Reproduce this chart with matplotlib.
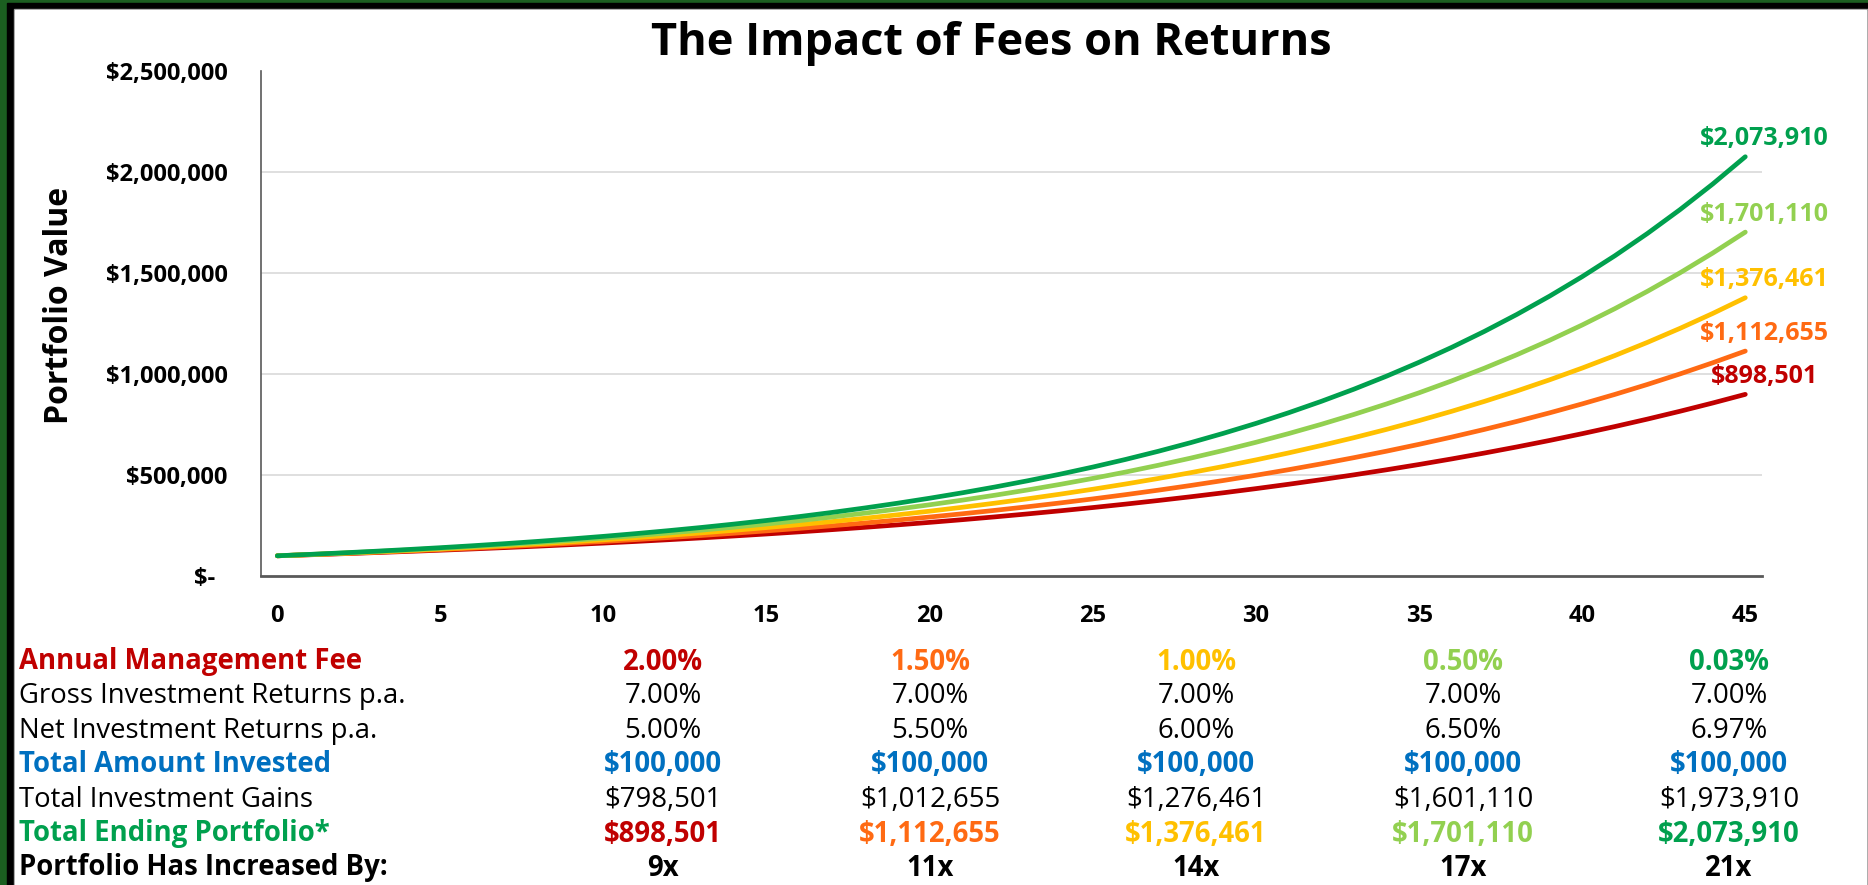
import matplotlib
matplotlib.use("Agg")
import matplotlib.pyplot as plt
from matplotlib.patches import Rectangle
from matplotlib.ticker import FuncFormatter

plt.rcParams["font.family"] = ["Open Sans", "DejaVu Sans"]

# ---- data ----
years = list(range(46))

fee_2_00 = [100000, 105000, 110250, 115763, 121551, 127628, 134010, 140710, 147746, 155133,
            162889, 171034, 179586, 188565, 197993, 207893, 218287, 229202, 240662, 252695,
            265330, 278596, 292526, 307152, 322510, 338635, 355567, 373346, 392013, 411614,
            432194, 453804, 476494, 500319, 525335, 551602, 579182, 608141, 638548, 670475,
            703999, 739199, 776159, 814967, 855715, 898501]
fee_1_50 = [100000, 105500, 111303, 117424, 123882, 130696, 137884, 145468, 153469, 161909,
            170814, 180209, 190121, 200577, 211609, 223248, 235526, 248480, 262147, 276565,
            291776, 307823, 324754, 342615, 361459, 381339, 402313, 424440, 447784, 472412,
            498395, 525807, 554726, 585236, 617424, 651382, 687208, 725004, 764880, 806948,
            851331, 898154, 947553, 999668, 1054650, 1112655]
fee_1_00 = [100000, 106000, 112360, 119102, 126248, 133823, 141852, 150363, 159385, 168948,
            179085, 189830, 201220, 213293, 226090, 239656, 254035, 269277, 285434, 302560,
            320714, 339956, 360354, 381975, 404893, 429187, 454938, 482235, 511169, 541839,
            574349, 608810, 645339, 684059, 725103, 768609, 814725, 863609, 915425, 970351,
            1028572, 1090286, 1155703, 1225045, 1298548, 1376461]
fee_0_50 = [100000, 106500, 113423, 120795, 128647, 137009, 145914, 155399, 165500, 176257,
            187714, 199915, 212910, 226749, 241487, 257184, 273901, 291705, 310665, 330859,
            352365, 375268, 399661, 425639, 453305, 482770, 514150, 547570, 583162, 621067,
            661437, 704430, 750218, 798982, 850916, 906226, 965130, 1027864, 1094675, 1165829,
            1241607, 1322312, 1408262, 1499799, 1597286, 1701110]
fee_0_03 = [100000, 106970, 114426, 122402, 130933, 140059, 149821, 160263, 171434, 183383,
            196164, 209837, 224463, 240108, 256843, 274745, 293895, 314380, 336292, 359731,
            384805, 411626, 440316, 471006, 503835, 538952, 576517, 616700, 659684, 705664,
            754849, 807462, 863743, 923945, 988344, 1057232, 1130921, 1209746, 1294065, 1384262,
            1480745, 1583953, 1694354, 1812451, 1938778, 2073910]

series = [fee_2_00, fee_1_50, fee_1_00, fee_0_50, fee_0_03]
colors = ["#c00000", "#ff6a13", "#ffc000", "#92d050", "#00a04e"]

fee_text = ["2.00%", "1.50%", "1.00%", "0.50%", "0.03%"]
gross_text = ["7.00%", "7.00%", "7.00%", "7.00%", "7.00%"]
net_text = ["5.00%", "5.50%", "6.00%", "6.50%", "6.97%"]
invested_text = ["$100,000", "$100,000", "$100,000", "$100,000", "$100,000"]
gains_text = ["$798,501", "$1,012,655", "$1,276,461", "$1,601,110", "$1,973,910"]
ending_text = ["$898,501", "$1,112,655", "$1,376,461", "$1,701,110", "$2,073,910"]
multiple_text = ["9x", "11x", "14x", "17x", "21x"]

W, H = 1868, 885
fig = plt.figure(figsize=(W / 100, H / 100), dpi=100)
fig.patch.set_facecolor("#1b5e20")


def rect(x0, y0, x1, y1, color):
    # pixel box, y measured from the top
    fig.patches.append(Rectangle((x0 / W, 1 - y1 / H), (x1 - x0) / W, (y1 - y0) / H,
                                 transform=fig.transFigure, color=color, zorder=-10))


rect(7, 3, W, H, "black")
rect(14, 9, W, H, "#9a9a9a")
rect(15, 10, 1866, H, "white")

ax = fig.add_axes([261 / W, 1 - 576 / H, (1761.6 - 261) / W, (576 - 70.6) / H])
ax.set_facecolor("white")

for vals, c in zip(series, colors):
    ax.plot(years, vals, color=c, lw=3.4, solid_capstyle="round")

for vals, c, txt in zip(series, colors, ending_text):
    ax.annotate(txt, (years[-1], vals[-1]), xytext=(19, 18), textcoords="offset pixels",
                ha="center", va="center", color=c, fontsize=18, fontweight="bold")

ax.set_xlim(-0.5, 45.5)
ax.set_ylim(0, 2500000)
ax.set_xticks(range(0, 46, 5))
ax.set_yticks(range(0, 2500001, 500000))
for y in ax.get_yticks()[1:-1]:
    ax.axhline(y, color="#d9d9d9", lw=1.2, zorder=0)

ax.yaxis.set_major_formatter(FuncFormatter(lambda v, p: "$-  " if v == 0 else f"${v:,.0f}"))
ax.tick_params(length=0, labelsize=17)
ax.tick_params(axis="y", pad=24)
ax.tick_params(axis="x", pad=20)
plt.setp(ax.get_xticklabels(), fontweight="bold")
plt.setp(ax.get_yticklabels(), fontweight="bold")

for s in ["top", "right"]:
    ax.spines[s].set_visible(False)
ax.spines["left"].set_color("#595959")
ax.spines["left"].set_linewidth(1.2)
ax.spines["bottom"].set_color("#595959")
ax.spines["bottom"].set_linewidth(2)

fig.text(991 / W, 1 - 44 / H, "The Impact of Fees on Returns", ha="center", va="center",
         fontsize=32.5, fontweight="bold")
fig.text(60 / W, 1 - 305 / H, "Portfolio Value", rotation=90, ha="center", va="center",
         fontsize=23, fontweight="bold")

# ---- table under the chart ----
col_x = [663, 930, 1196, 1463, 1729]
row_y = [662, 696, 731, 765, 800, 834, 868]
rows = [
    ("Annual Management Fee", "#c00000", "bold", fee_text, colors, "bold"),
    ("Gross Investment Returns p.a.", "black", "normal", gross_text, ["black"] * 5, "normal"),
    ("Net Investment Returns p.a.", "black", "normal", net_text, ["black"] * 5, "normal"),
    ("Total Amount Invested", "#0070c0", "bold", invested_text, ["#0070c0"] * 5, "bold"),
    ("Total Investment Gains", "black", "normal", gains_text, ["black"] * 5, "normal"),
    ("Total Ending Portfolio*", "#00a04e", "bold", ending_text, colors, "bold"),
    ("Portfolio Has Increased By:", "black", "bold", multiple_text, ["black"] * 5, "bold"),
]
for (label, lc, lw, vals, vcs, vw), y in zip(rows, row_y):
    fig.text(19 / W, 1 - y / H, label, ha="left", va="center", color=lc,
             fontsize=19.8, fontweight=lw)
    for x, v, vc in zip(col_x, vals, vcs):
        fig.text(x / W, 1 - y / H, v, ha="center", va="center", color=vc,
                 fontsize=19.8, fontweight=vw)

fig.savefig("out.png", dpi=100, facecolor=fig.get_facecolor())
